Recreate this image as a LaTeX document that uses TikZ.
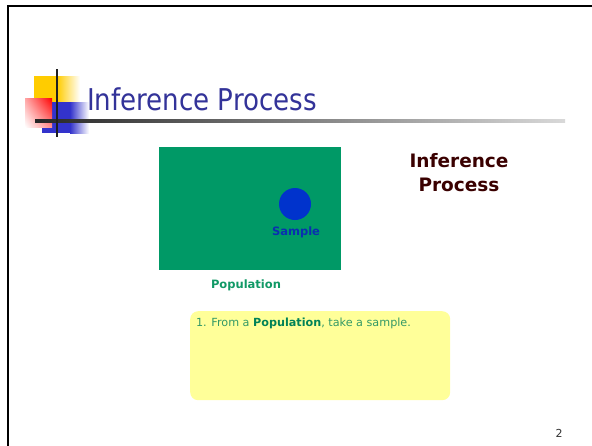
\documentclass[tikz,border=0pt]{standalone}
\usepackage{fontspec}
\setmainfont{DejaVu Sans}
\usetikzlibrary{shadings}
\definecolor{titleblue}{HTML}{333399}
\definecolor{popgreen}{HTML}{009966}
\definecolor{popgreentext}{HTML}{119966}
\definecolor{sampleblue}{HTML}{0033CC}
\definecolor{samptext}{HTML}{0A2FB0}
\definecolor{maroon}{HTML}{3A0000}
\definecolor{noteyellow}{HTML}{FFFF99}
\definecolor{notegreen}{HTML}{339966}
\definecolor{logoyellow}{HTML}{FFCC00}
\definecolor{logoblue}{HTML}{3333CC}
\definecolor{logored}{HTML}{FF0000}
\tikzset{
  lbl/.style={inner sep=0pt, outer sep=0pt},
  boldlbl/.style={lbl, font=\bfseries},
}
\begin{document}
\begin{tikzpicture}[x=1pt,y=-1pt]
\useasboundingbox[fill=white] (0,0) rectangle (592,445);
% frame
\draw[line width=2.6pt, black] (8,446) -- (8,6) -- (593,6);
% logo
\fill[logoyellow] (34,76) rectangle (57,102);
\shade[left color=logoyellow, right color=white] (57,76) rectangle (80,102);
\fill[logoblue] (42,102) rectangle (70,133);
\shade[left color=logoblue, right color=white] (70,102) rectangle (89,133);
\shade[upper right=logored, upper left=logored!35, lower right=logored!45, lower left=white] (25,98) rectangle (52,127);
\shade[left color=black!85, right color=black!15] (35,119.8) rectangle (565,122.2);
\fill[black!88] (55.8,69) rectangle (58.4,137);
% title
\node[lbl, anchor=base west, text=titleblue, font=\fontsize{30}{36}\selectfont] (title) at (87,110) {\scalebox{0.87}[1]{Inference Process}};
% population
\node[fill=popgreen, minimum width=182.4, minimum height=123.3, inner sep=0pt, anchor=north west] (pop) at (158.3,146.7) {};
\node[circle, fill=sampleblue, minimum size=32, inner sep=0pt] (samp) at (295,204) {};
\node[boldlbl, text=samptext, font=\bfseries\fontsize{11.5}{14}\selectfont] (samplbl) at (296,232.5) {Sample};
\node[boldlbl, text=popgreentext, font=\bfseries\fontsize{11.5}{14}\selectfont] (poplbl) at (246,285) {Population};
% right heading
\node[lbl, text=maroon, align=center, font=\bfseries\fontsize{18.5}{24}\selectfont] (heading) at (459,173) {Inference\\Process};
% note box
\node[fill=noteyellow, rounded corners=8pt, minimum width=260, minimum height=89, inner sep=0pt, anchor=north west] (note) at (190,311) {};
\node[lbl, anchor=base west, text=notegreen, font=\fontsize{11.2}{13}\selectfont] (notetext) at (196,326.5) {1. From a \textbf{\textcolor{popgreen!85!black}{Population}}, take a sample.};
% page number
\node[lbl, text=black!80, font=\fontsize{11}{13}\selectfont] (pnum) at (559,433) {2};
\end{tikzpicture}
\end{document}
